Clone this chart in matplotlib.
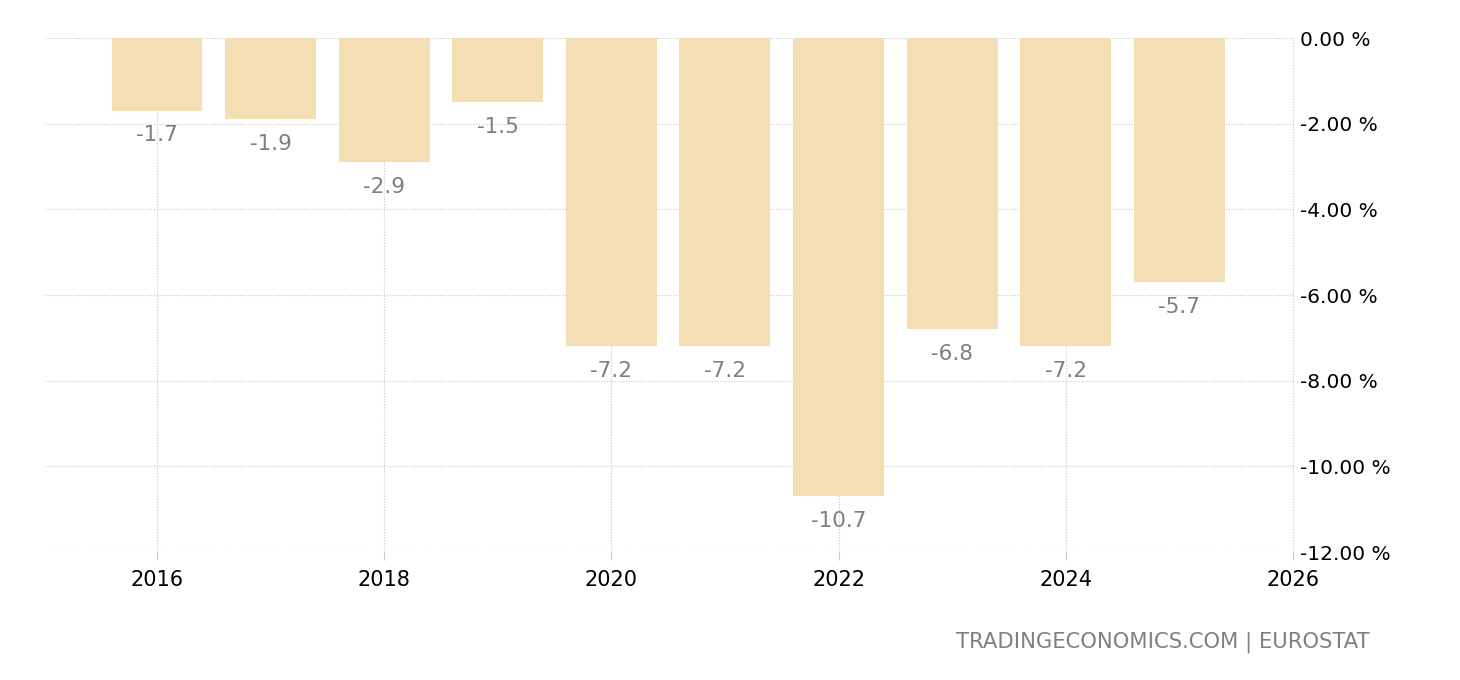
import matplotlib
matplotlib.use("Agg")
import matplotlib.pyplot as plt

years = [2016, 2017, 2018, 2019, 2020, 2021, 2022, 2023, 2024, 2025]
values = [-1.7, -1.9, -2.9, -1.5, -7.2, -7.2, -10.7, -6.8, -7.2, -5.7]
xticks = [2016, 2018, 2020, 2022, 2024, 2026]
yticks = [0, -2, -4, -6, -8, -10, -12]

bar_color = "#f4deb4"
grid_color = "#c8c8c8"

fig = plt.figure(figsize=(14.6, 6.8), dpi=100)
ax = fig.add_axes([0.0308, 0.1882, 0.8555, 0.7559])

ax.bar(years, values, width=0.8, color=bar_color, zorder=2)

for x, v in zip(years, values):
    ax.annotate(f"{v:.1f}", (x, v), xytext=(0, -10.5), textcoords="offset points",
                ha="center", va="top", fontsize=15.5, color="#7f7f7f", zorder=3)

ax.set_xlim(2015.014, 2026.01)
ax.set_ylim(-12, 0)
ax.set_xticks(xticks)
ax.set_yticks(yticks)
ax.set_yticklabels([f"{t:.2f} %" for t in yticks])
ax.yaxis.tick_right()

ax.grid(True, color=grid_color, linestyle=(0, (1, 1.5)), linewidth=0.8, zorder=0)
for s in ax.spines.values():
    s.set_visible(False)

ax.tick_params(axis="x", length=6, color=grid_color, labelsize=15, pad=7, labelcolor="black")
ax.tick_params(axis="y", length=0, labelsize=14.5, pad=4, labelcolor="black")

fig.text(0.9384, 0.0559, "TRADINGECONOMICS.COM | EUROSTAT", ha="right", va="center",
         fontsize=15.2, color="#808080")

fig.savefig("out.png", dpi=100)
